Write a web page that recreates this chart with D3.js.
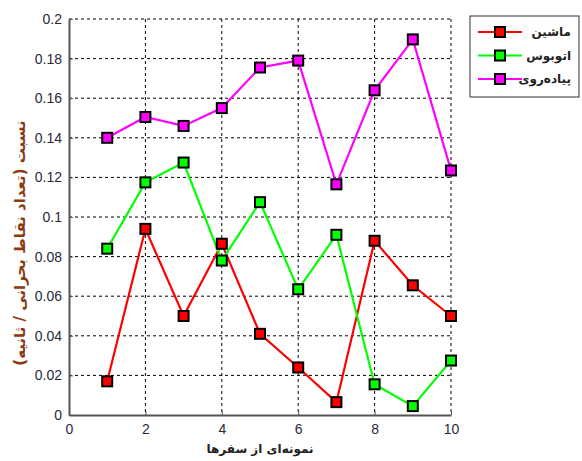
<!DOCTYPE html>
<html lang="fa">
<head>
<meta charset="utf-8"/>
<title>Line chart</title>
<script src="https://d3js.org/d3.v7.min.js"></script>
<style>
  body { margin: 0; background: #fff; }
  .tick text { font-family: "Liberation Sans", Arial, sans-serif; font-size: 14px; fill: #2a2a3a; }
</style>
</head>
<body>
<script>
// chart values
var samples = [1, 2, 3, 4, 5, 6, 7, 8, 9, 10];
var car  = [0.017, 0.094, 0.050, 0.0865, 0.041, 0.024, 0.0065, 0.088, 0.0655, 0.050];
var bus  = [0.084, 0.1175, 0.1275, 0.078, 0.1075, 0.0635, 0.091, 0.0155, 0.0045, 0.0275];
var walk = [0.140, 0.1505, 0.146, 0.155, 0.1755, 0.179, 0.1165, 0.164, 0.1897, 0.1235];
var seriesNames = ["ماشین", "اتوبوس", "پیاده‌روی"];
var seriesColors = ["#ff0000", "#00ff00", "#ff00ff"];
var xTicks = [0, 2, 4, 6, 8, 10];
var yTicks = [0, 0.02, 0.04, 0.06, 0.08, 0.1, 0.12, 0.14, 0.16, 0.18, 0.2];

var w = 582, h = 461;
var pl = 69, pr = 451, pt = 19, pb = 415;

var svg = d3.select("body").append("svg")
    .attr("width", w)
    .attr("height", h);

var x = d3.scaleLinear().domain([0, 10]).range([pl, pr]);
var y = d3.scaleLinear().domain([0, 0.2]).range([pb, pt]);

// grid
svg.append("g").selectAll("line")
    .data(xTicks.slice(1))
    .enter().append("line")
    .attr("x1", function (d) { return x(d); })
    .attr("x2", function (d) { return x(d); })
    .attr("y1", pt).attr("y2", pb)
    .attr("stroke", "#000").attr("stroke-width", 1)
    .attr("stroke-dasharray", "3,3");
svg.append("g").selectAll("line")
    .data(yTicks.slice(1))
    .enter().append("line")
    .attr("x1", pl).attr("x2", pr)
    .attr("y1", function (d) { return y(d); })
    .attr("y2", function (d) { return y(d); })
    .attr("stroke", "#000").attr("stroke-width", 1)
    .attr("stroke-dasharray", "3,3");

// axes
var xAxis = svg.append("g")
    .attr("transform", "translate(0," + pb + ")")
    .call(d3.axisBottom(x).tickValues(xTicks).tickSizeInner(-4).tickSizeOuter(0).tickPadding(9).tickFormat(d3.format("d")));
var yAxis = svg.append("g")
    .attr("transform", "translate(" + pl + ",0)")
    .call(d3.axisLeft(y).tickValues(yTicks).tickSizeInner(-4).tickSizeOuter(0).tickPadding(7).tickFormat(function (d) { return String(+d.toFixed(2)); }));
[xAxis, yAxis].forEach(function (a) {
  a.select(".domain").attr("stroke", "#555").attr("stroke-width", 2);
  a.selectAll(".tick line").attr("stroke", "#555");
});

// series lines and markers
var all = [car, bus, walk];
var line = d3.line()
    .x(function (d, i) { return x(samples[i]); })
    .y(function (d) { return y(d); });

all.forEach(function (vals, s) {
  svg.append("path")
      .datum(vals)
      .attr("d", line)
      .attr("fill", "none")
      .attr("stroke", seriesColors[s])
      .attr("stroke-width", 2.2);
});
all.forEach(function (vals, s) {
  svg.append("g").selectAll("rect")
      .data(vals)
      .enter().append("rect")
      .attr("x", function (d, i) { return x(samples[i]) - 5; })
      .attr("y", function (d) { return y(d) - 5; })
      .attr("width", 10).attr("height", 10)
      .attr("fill", seriesColors[s])
      .attr("stroke", "#000")
      .attr("stroke-width", 2);
});

// axis labels
svg.append("text")
    .attr("x", (pl + pr) / 2)
    .attr("y", 453)
    .attr("text-anchor", "middle")
    .attr("font-family", "DejaVu Sans, sans-serif")
    .attr("font-weight", "bold")
    .attr("font-size", 12)
    .attr("fill", "#222")
    .text("نمونه‌ای از سفرها");

svg.append("text")
    .attr("transform", "translate(25,243) rotate(-90)")
    .attr("text-anchor", "middle")
    .attr("font-family", "DejaVu Sans, sans-serif")
    .attr("font-weight", "bold")
    .attr("font-size", 15)
    .attr("fill", "#8b3a0f")
    .text("نسبت (تعداد نقاط بحرانی / ثانیه)");

// legend
var lg = svg.append("g");
lg.append("rect")
    .attr("x", 470).attr("y", 16)
    .attr("width", 109).attr("height", 81)
    .attr("fill", "#fff")
    .attr("stroke", "#333").attr("stroke-width", 1);
var ly = d3.scalePoint().domain(seriesNames).range([32, 79]);
seriesNames.forEach(function (n, s) {
  lg.append("line")
      .attr("x1", 478).attr("x2", 522)
      .attr("y1", ly(n)).attr("y2", ly(n))
      .attr("stroke", seriesColors[s]).attr("stroke-width", 2);
  lg.append("rect")
      .attr("x", 495).attr("y", ly(n) - 5)
      .attr("width", 10).attr("height", 10)
      .attr("fill", seriesColors[s])
      .attr("stroke", "#000").attr("stroke-width", 2);
  lg.append("text")
      .attr("x", 571).attr("y", ly(n) + 4)
      .attr("text-anchor", "end")
      .attr("font-family", "DejaVu Sans, sans-serif")
      .attr("font-weight", "bold")
      .attr("font-size", 12)
      .attr("fill", "#222")
      .text(n);
});
</script>
</body>
</html>
